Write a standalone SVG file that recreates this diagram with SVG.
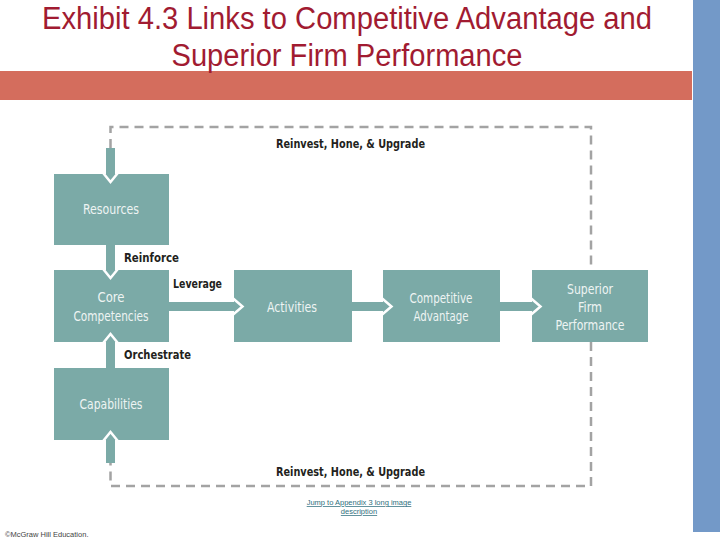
<svg xmlns="http://www.w3.org/2000/svg" width="720" height="540" viewBox="0 0 720 540">
<style>
.title{font-family:"Liberation Sans",Arial,sans-serif;font-size:31px;fill:#A11B31;text-anchor:middle}
.node rect{fill:#7BAAA7}
.nt{font-family:"DejaVu Sans Condensed","DejaVu Sans",sans-serif;font-size:14px;fill:#EEF4F3;text-anchor:middle}
.lbl{font-family:"DejaVu Sans Condensed","DejaVu Sans",sans-serif;font-weight:bold;font-size:13px;fill:#231F20}
.dash{fill:none;stroke:#A3A3A3;stroke-width:2.5;stroke-dasharray:9 6}
.shaft{fill:#7BAAA7}
.chev{fill:none;stroke:#FFFFFF;stroke-width:2.5;stroke-linejoin:miter}
.foot{font-family:"Liberation Sans",Arial,sans-serif;font-size:7.5px}
</style>
<rect x="0" y="0" width="720" height="540" fill="#FFFFFF"/>
<rect x="693" y="0" width="27" height="532" fill="#7399C8"/>
<rect x="0" y="71" width="692" height="29" fill="#D46D5D"/>
<text class="title" x="347" y="29" textLength="610" lengthAdjust="spacingAndGlyphs">Exhibit 4.3 Links to Competitive Advantage and</text>
<text class="title" x="347" y="66" textLength="351" lengthAdjust="spacingAndGlyphs">Superior Firm Performance</text>

<g id="connectors">
<path class="dash" d="M110.5,148 V127 H591 V270"/>
<path class="dash" d="M591,342 V486 H110.5 V463"/>
<rect class="shaft" x="106" y="148" width="9" height="26"/>
<rect class="shaft" x="106" y="245" width="9" height="25"/>
<rect class="shaft" x="106" y="342" width="9" height="26"/>
<rect class="shaft" x="106" y="440" width="9" height="23"/>
<rect class="shaft" x="169" y="302" width="65" height="9"/>
<rect class="shaft" x="352" y="302" width="31" height="9"/>
<rect class="shaft" x="500" y="302" width="32" height="9"/>
</g>

<g id="resources" class="node"><rect x="54" y="174" width="115" height="71"/><text class="nt" x="111" y="214" textLength="56" lengthAdjust="spacingAndGlyphs">Resources</text></g>
<g id="core" class="node"><rect x="54" y="270" width="115" height="72"/><text class="nt" x="111" y="302" textLength="27" lengthAdjust="spacingAndGlyphs">Core</text><text class="nt" x="111" y="321" textLength="75" lengthAdjust="spacingAndGlyphs">Competencies</text></g>
<g id="capabilities" class="node"><rect x="54" y="368" width="115" height="72"/><text class="nt" x="111" y="409" textLength="63" lengthAdjust="spacingAndGlyphs">Capabilities</text></g>
<g id="activities" class="node"><rect x="234" y="270" width="118" height="72"/><text class="nt" x="292" y="312" textLength="50" lengthAdjust="spacingAndGlyphs">Activities</text></g>
<g id="advantage" class="node"><rect x="383" y="270" width="117" height="72"/><text class="nt" x="441" y="303" textLength="63" lengthAdjust="spacingAndGlyphs">Competitive</text><text class="nt" x="441" y="321" textLength="55" lengthAdjust="spacingAndGlyphs">Advantage</text></g>
<g id="performance" class="node"><rect x="532" y="270" width="116" height="72"/><text class="nt" x="590" y="294" textLength="46" lengthAdjust="spacingAndGlyphs">Superior</text><text class="nt" x="590" y="312" textLength="24" lengthAdjust="spacingAndGlyphs">Firm</text><text class="nt" x="590" y="330" textLength="69" lengthAdjust="spacingAndGlyphs">Performance</text></g>

<g id="arrowheads">
<polyline class="chev" points="101.5,171 110.5,182 119.5,171"/>
<polyline class="chev" points="101.5,267 110.5,278 119.5,267"/>
<polyline class="chev" points="101.5,345 110.5,334 119.5,345"/>
<polyline class="chev" points="101.5,443 110.5,432 119.5,443"/>
<polyline class="chev" points="232,297.5 242.5,306.5 232,315.5"/>
<polyline class="chev" points="381,297.5 391.5,306.5 381,315.5"/>
<polyline class="chev" points="530,297.5 540.5,306.5 530,315.5"/>
</g>

<g id="labels">
<text class="lbl" x="276" y="148" textLength="149" lengthAdjust="spacingAndGlyphs">Reinvest, Hone, &amp; Upgrade</text>
<text class="lbl" x="276" y="476" textLength="149" lengthAdjust="spacingAndGlyphs">Reinvest, Hone, &amp; Upgrade</text>
<text class="lbl" x="124" y="262" textLength="55" lengthAdjust="spacingAndGlyphs">Reinforce</text>
<text class="lbl" x="173" y="288" textLength="49" lengthAdjust="spacingAndGlyphs">Leverage</text>
<text class="lbl" x="124" y="359" textLength="67" lengthAdjust="spacingAndGlyphs">Orchestrate</text>
</g>

<g id="footer">
<text class="foot" x="359" y="505" text-anchor="middle" fill="#2F6F7E" text-decoration="underline">Jump to Appendix 3 long image</text>
<text class="foot" x="359" y="514" text-anchor="middle" fill="#2F6F7E" text-decoration="underline">description</text>
<text class="foot" x="5" y="537" fill="#444444">©McGraw Hill Education.</text>
</g>
</svg>
